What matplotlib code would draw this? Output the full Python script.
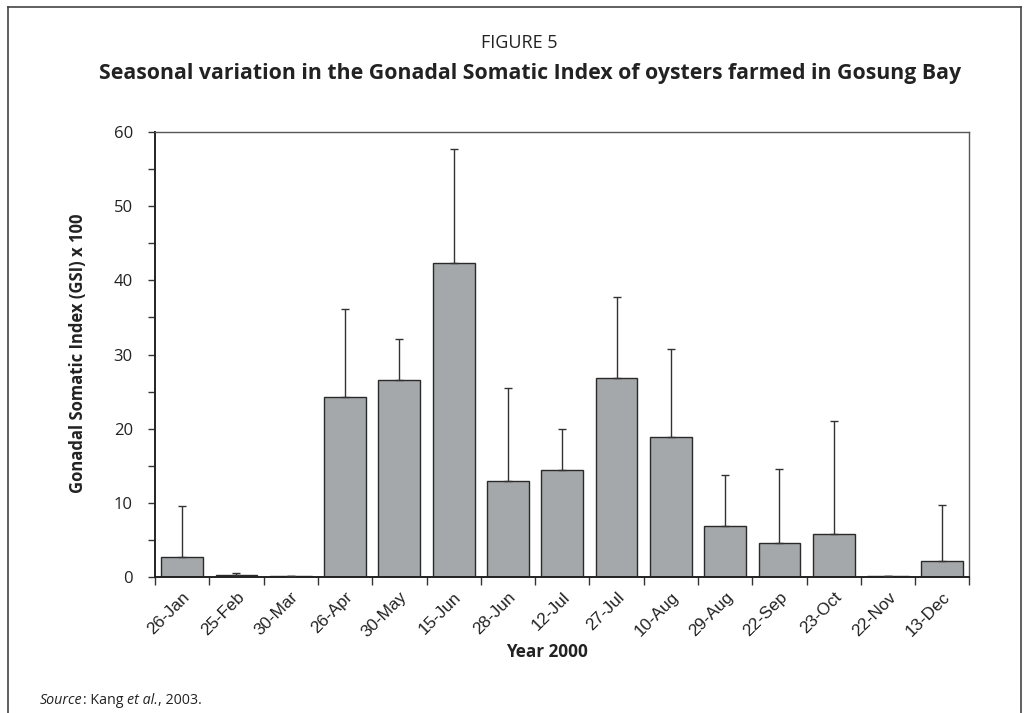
import matplotlib
matplotlib.use("Agg")
import matplotlib.pyplot as plt
import numpy as np
from matplotlib.lines import Line2D
from matplotlib.ticker import MultipleLocator

dates = ["26-Jan", "25-Feb", "30-Mar", "26-Apr", "30-May", "15-Jun", "28-Jun", "12-Jul",
         "27-Jul", "10-Aug", "29-Aug", "22-Sep", "23-Oct", "22-Nov", "13-Dec"]
gsi = [2.6, 0.2, 0.1, 24.3, 26.5, 42.3, 12.9, 14.4, 26.8, 18.9, 6.8, 4.5, 5.7, 0.05, 2.1]
err_upper = [6.95, 0.35, 0.0, 11.8, 5.6, 15.5, 12.6, 5.5, 10.9, 11.9, 6.9, 10.0, 15.3, 0.0, 7.6]

fig = plt.figure(figsize=(10.29, 7.13), dpi=100)
W, H = 1029, 713

# outer frame
fig.add_artist(Line2D([8/W, 8/W], [0, 1 - 7/H], color="#444444", lw=1.2))
fig.add_artist(Line2D([8/W, 1021/W], [1 - 7/H, 1 - 7/H], color="#444444", lw=1.2))
fig.add_artist(Line2D([1021/W, 1021/W], [0, 1 - 7/H], color="#444444", lw=1.2))

fig.text(519/W, 1 - 43/H, "FIGURE 5", ha="center", va="center", fontsize=13,
         family="Open Sans", color="#222222")
fig.text(530/W, 1 - 73/H, "Seasonal variation in the Gonadal Somatic Index of oysters farmed in Gosung Bay",
         ha="center", va="center", fontsize=15.3, family="Open Sans", fontweight="bold", color="#222222")

ax = fig.add_axes([155/W, 1 - 576.7/H, (969.5 - 155)/W, (576.7 - 132.3)/H])
x = np.arange(len(dates))
ax.bar(x, gsi, width=0.77, color="#a4a8aa", edgecolor="#2a2a2a", linewidth=1.0, zorder=2)
ax.errorbar(x, gsi, yerr=[np.zeros(len(gsi)), err_upper], fmt="none", ecolor="#333333",
            elinewidth=1.0, capsize=3, capthick=1.0, zorder=3)

ax.set_xlim(-0.5, len(dates) - 0.5)
ax.set_ylim(0, 60)
ax.yaxis.set_major_locator(MultipleLocator(10))
ax.yaxis.set_minor_locator(MultipleLocator(5))
ax.set_xticks(np.arange(-0.5, len(dates) + 0.5, 1))
ax.set_xticklabels([])
ax.tick_params(axis="x", which="major", direction="out", length=6, width=1, color="#333333")
ax.tick_params(axis="y", which="major", direction="out", length=5, width=1, color="#333333",
               labelsize=12, pad=11, labelcolor="#222222")
ax.tick_params(axis="y", which="minor", direction="out", length=5, width=1, color="#333333")
for lab in ax.get_yticklabels():
    lab.set_family("Open Sans")
ax.set_xticks(x, minor=True)
ax.set_xticklabels(dates, minor=True, rotation=45, ha="right", rotation_mode="anchor",
                   fontsize=12.3, family="Liberation Sans", color="#222222")
ax.tick_params(axis="x", which="minor", length=0, pad=9)

for side in ["left", "bottom"]:
    ax.spines[side].set_color("#222222")
    ax.spines[side].set_linewidth(1.4)
for side in ["top", "right"]:
    ax.spines[side].set_color("#555555")
    ax.spines[side].set_linewidth(1.0)

fig.text(78/W, 1 - 353/H, "Gonadal Somatic Index (GSI) x 100", rotation=90, ha="center", va="center",
         fontsize=12, family="Open Sans", fontweight="bold", color="#222222")
fig.text(547/W, 1 - 652/H, "Year 2000", ha="center", va="center", fontsize=12.3,
         family="Open Sans", fontweight="bold", color="#222222")

# Source line with mixed italics
fig.canvas.draw()
renderer = fig.canvas.get_renderer()
parts = [("Source", "italic"), (": Kang ", "normal"), ("et al.", "italic"), (", 2003.", "normal")]
xpos = 40 / W
for txt, style in parts:
    t = fig.text(xpos, 1 - 701/H, txt, ha="left", va="center", fontsize=10.3,
                 family="Open Sans", style=style, color="#222222")
    bb = t.get_window_extent(renderer=renderer)
    xpos += bb.width / W

fig.savefig("out.png", dpi=100)
